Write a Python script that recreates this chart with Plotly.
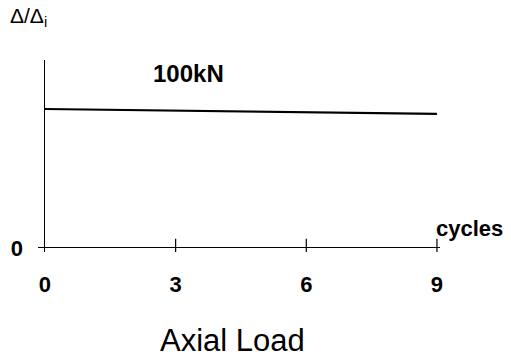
import plotly.graph_objects as go

# Data
cycles = [0, 3, 6, 9]
ratio = [1.0, 0.988, 0.976, 0.965]
x_ticks = [0, 3, 6, 9]
x_tick_labels = ["0", "3", "6", "9"]
y_ticks = [0]
y_tick_labels = ["0"]
series_label = "100kN"
title_text = "Axial Load"

FONT = "Liberation Sans, Arial, sans-serif"

fig = go.Figure()

# data line
fig.add_trace(go.Scatter(
    x=cycles, y=ratio, mode="lines",
    line=dict(color="black", width=2.2),
    showlegend=False, hoverinfo="skip"))

# crossing tick marks on the x axis
fig.add_trace(go.Scatter(
    x=x_ticks[1:], y=[0] * (len(x_ticks) - 1), mode="markers",
    marker=dict(symbol="line-ns", size=13, line=dict(color="black", width=1.2)),
    showlegend=False, hoverinfo="skip"))

fig.update_layout(
    width=511, height=360,
    margin=dict(l=38, r=71, t=60, b=108),
    paper_bgcolor="white", plot_bgcolor="white",
    font=dict(family=FONT, color="black"),
    xaxis=dict(
        range=[-0.16, 9.07], showgrid=False, showline=False,
        zeroline=True, zerolinecolor="black", zerolinewidth=1.2,
        tickmode="array", tickvals=x_ticks, ticktext=[f"<b>{t}</b>" for t in x_tick_labels],
        ticks="", tickfont=dict(size=22, family=FONT, color="black"),
        ticklabelstandoff=17, fixedrange=True),
    yaxis=dict(
        range=[-0.03, 1.353], showgrid=False, showline=False,
        zeroline=True, zerolinecolor="black", zerolinewidth=1.2,
        tickmode="array", tickvals=y_ticks, ticktext=[f"<b>{t}</b>" for t in y_tick_labels],
        ticks="", tickfont=dict(size=22, family=FONT, color="black"),
        ticklabelstandoff=14, fixedrange=True),
    annotations=[
        dict(text="Δ/Δ<sub>i</sub>", xref="paper", yref="paper",
             x=-0.075, y=1.0, yshift=43, xanchor="left", yanchor="middle",
             showarrow=False, font=dict(size=21, family=FONT)),
        dict(text=f"<b>{series_label}</b>", x=3.3, y=1.253, xanchor="center", yanchor="middle",
             showarrow=False, font=dict(size=24, family=FONT)),
        dict(text="<b>cycles</b>", xref="paper", yref="y", x=1.0, y=0.14, xshift=29,
             xanchor="center", yanchor="middle",
             showarrow=False, font=dict(size=22, family=FONT)),
        dict(text=title_text, xref="x", yref="paper", x=4.3, y=0, yshift=-88,
             xanchor="center", yanchor="middle",
             showarrow=False, font=dict(size=31, family=FONT)),
    ],
)

fig.write_html("out.html")
